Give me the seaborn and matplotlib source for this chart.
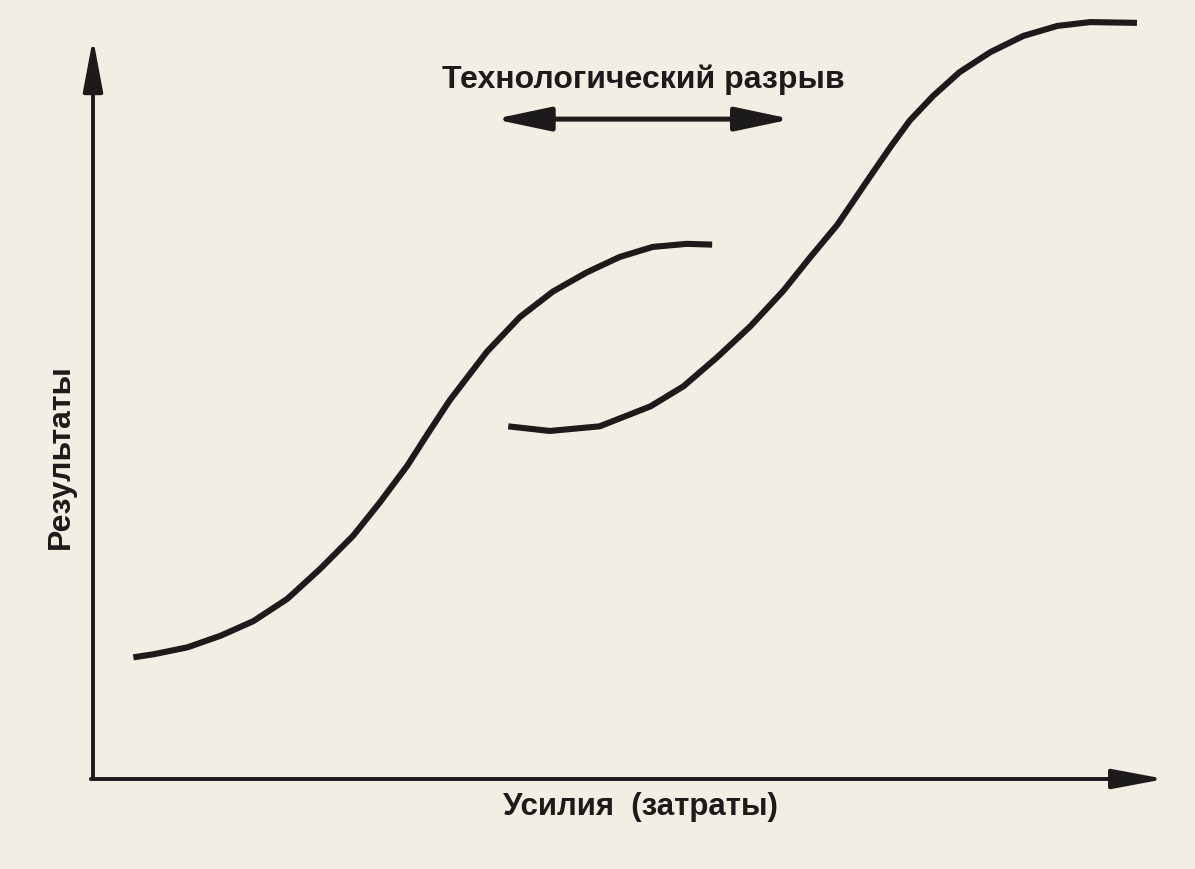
import pandas as pd
import seaborn as sns
import matplotlib
matplotlib.use("Agg")
import matplotlib.pyplot as plt

# Data (effort vs. results, arbitrary 0-100 units)
old_effort = [3.8, 5.7, 8.9, 12.0, 15.1, 18.3, 21.4, 24.5, 27.0, 29.6,
              31.5, 33.6, 37.1, 40.2, 43.3, 46.5, 49.6, 52.7, 55.9, 58.3]
old_result = [15.8, 16.2, 17.1, 18.6, 20.5, 23.4, 27.3, 31.6, 35.9, 40.7,
              44.8, 49.2, 55.5, 60.0, 63.3, 65.8, 67.8, 69.1, 69.5, 69.4]

new_effort = [39.1, 43.0, 47.7, 52.5, 55.6, 58.8, 61.9, 65.0, 67.5, 70.1,
              73.2, 75.1, 76.9, 79.1, 81.6, 84.5, 87.6, 90.8, 93.9, 98.3]
new_result = [45.8, 45.2, 45.8, 48.4, 51.0, 54.8, 58.8, 63.4, 67.7, 72.0,
              78.3, 82.1, 85.5, 88.7, 91.8, 94.4, 96.5, 97.8, 98.3, 98.2]

gap_label = "Технологический разрыв"
x_label = "Усилия  (затраты)"
y_label = "Результаты"

paper = "#f2eee3"
ink = "#1c1a1a"

sns.set_theme(style="white")
plt.rcParams["font.family"] = ["Liberation Sans", "DejaVu Sans"]

fig = plt.figure(figsize=(11.95, 8.7), dpi=100, facecolor=paper)
ax = fig.add_axes([93 / 1195, 90 / 870, 1062 / 1195, 770 / 870])
ax.set_facecolor(paper)
ax.set_xlim(0, 100)
ax.set_ylim(0, 100)
ax.axis("off")

old_df = pd.DataFrame({"effort": old_effort, "result": old_result})
new_df = pd.DataFrame({"effort": new_effort, "result": new_result})
for df in (old_df, new_df):
    sns.lineplot(data=df, x="effort", y="result", sort=False, ax=ax,
                 color=ink, linewidth=4.4, solid_capstyle="butt",
                 solid_joinstyle="round")

# axes drawn as arrows
axis_arrow = dict(arrowstyle="-|>,head_length=1.6,head_width=0.3",
                  color=ink, lw=2.8, shrinkA=0, shrinkB=0, mutation_scale=20)
ax.annotate("", xy=(0, 0.962), xytext=(0, 0), xycoords="axes fraction",
            arrowprops=axis_arrow)
ax.annotate("", xy=(1.0094, 0), xytext=(-0.002, 0), xycoords="axes fraction",
            arrowprops=axis_arrow)

# technology gap double arrow
ax.annotate("", xy=(65.8, 85.7), xytext=(37.75, 85.7), xycoords="data",
            arrowprops=dict(arrowstyle="<|-|>,head_length=1.7,head_width=0.36",
                            color=ink, lw=3.6, shrinkA=0, shrinkB=0,
                            mutation_scale=20))

fig.text(0.5385, 0.908, gap_label, ha="center", va="center",
         fontsize=23, fontweight="bold", color=ink)
fig.text(0.536, 0.072, x_label, ha="center", va="center",
         fontsize=22.5, fontweight="bold", color=ink)
fig.text(0.051, 0.4747, y_label, ha="center", va="center", rotation=90,
         fontsize=23, fontweight="bold", color=ink)

fig.savefig("out.png", dpi=100, facecolor=paper)
